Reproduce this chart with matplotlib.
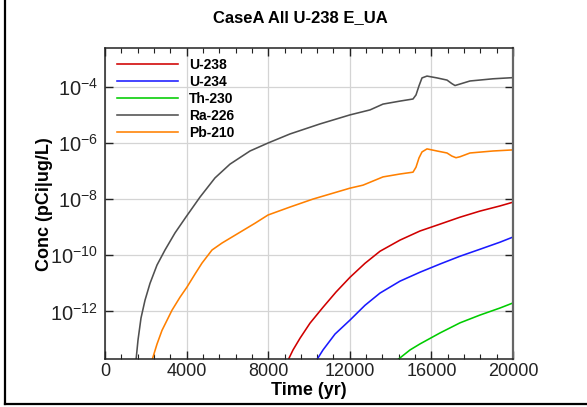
import numpy as np
import matplotlib
matplotlib.use('Agg')
import matplotlib.pyplot as plt
from matplotlib.ticker import MultipleLocator, NullLocator
from matplotlib.lines import Line2D

plt.rcParams['font.family'] = ['Liberation Sans', 'DejaVu Sans']
plt.rcParams['mathtext.fontset'] = 'custom'
plt.rcParams['mathtext.rm'] = 'Liberation Sans'

# values (time in yr, concentration in pCi/ug/L)
t_ra226 = [1480, 1520, 1618, 1765, 1961, 2206, 2549, 2941, 3431, 3971, 4657, 5392,
           6127, 7108, 7990, 9069, 10539, 12010, 12990, 13627, 14461, 15098, 15245,
           15392, 15539, 15784, 16275, 16765, 17000, 17157, 17402, 17892, 19020, 20000]
c_ra226 = [1.0e-14, 1.8e-14, 9.5e-14, 5.8e-13, 2.5e-12, 1.0e-11, 4.5e-11, 1.55e-10,
           6.3e-10, 2.35e-9, 1.2e-8, 5.8e-8, 1.8e-7, 5.3e-7, 1.02e-6, 2.15e-6, 4.9e-6,
           1.03e-5, 1.55e-5, 2.5e-5, 3.2e-5, 3.8e-5, 5.3e-5, 1.12e-4, 2.15e-4, 2.5e-4,
           2.15e-4, 1.8e-4, 1.35e-4, 1.15e-4, 1.3e-4, 1.67e-4, 2.0e-4, 2.2e-4]

t_pb210 = [2206, 2304, 2549, 2794, 3284, 3676, 4020, 4412, 4755, 5245, 5735, 6225,
           7353, 7990, 9069, 10196, 12010, 12647, 13627, 14461, 15098, 15245, 15392,
           15539, 15784, 16275, 16765, 17000, 17206, 17402, 17892, 19020, 20000]
c_pb210 = [8.0e-15, 1.8e-14, 6.8e-14, 2.1e-13, 1.1e-12, 3.2e-12, 7.4e-12, 2.15e-11,
           5.3e-11, 1.55e-10, 2.75e-10, 4.5e-10, 1.4e-9, 2.75e-9, 5.3e-9, 1.02e-8,
           2.5e-8, 3.2e-8, 6.3e-8, 8.0e-8, 9.3e-8, 1.4e-7, 3.0e-7, 4.9e-7, 6.3e-7,
           5.3e-7, 4.5e-7, 3.5e-7, 3.05e-7, 3.3e-7, 4.5e-7, 5.3e-7, 5.8e-7]

t_u238 = [8900, 8971, 9216, 9559, 10049, 10686, 11324, 12010, 12745, 13480, 14461,
          15441, 16422, 17402, 18382, 19363, 20000]
c_u238 = [1.2e-14, 1.8e-14, 4.2e-14, 1.1e-13, 3.8e-13, 1.4e-12, 4.9e-12, 1.65e-11,
          5.2e-11, 1.4e-10, 3.5e-10, 7.4e-10, 1.3e-9, 2.3e-9, 3.8e-9, 5.8e-9, 7.9e-9]

t_u234 = [10300, 10368, 10686, 11275, 12010, 12745, 13480, 14461, 15441, 16422,
          17402, 18382, 19363, 20000]
c_u234 = [1.2e-14, 1.8e-14, 4.2e-14, 1.55e-13, 4.9e-13, 1.65e-12, 4.5e-12, 1.2e-11,
          2.5e-11, 4.9e-11, 9.3e-11, 1.65e-10, 2.95e-10, 4.5e-10]

t_th230 = [14200, 14314, 14951, 15441, 16422, 17402, 18382, 19363, 20000]
c_th230 = [1.3e-14, 1.8e-14, 4.2e-14, 6.9e-14, 1.7e-13, 3.9e-13, 7.4e-13, 1.32e-12,
           2.0e-12]

series = [('U-238', t_u238, c_u238, '#d00000'),
          ('U-234', t_u234, c_u234, '#1a1aff'),
          ('Th-230', t_th230, c_th230, '#00cc00'),
          ('Ra-226', t_ra226, c_ra226, '#505050'),
          ('Pb-210', t_pb210, c_pb210, '#ff8000')]

ytick_vals = [1e-12, 1e-10, 1e-8, 1e-6, 1e-4]
ytick_labels = [r'$\mathregular{10^{-12}}$', r'$\mathregular{10^{-10}}$',
                r'$\mathregular{10^{-8}}$', r'$\mathregular{10^{-6}}$',
                r'$\mathregular{10^{-4}}$']
xtick_vals = [0, 4000, 8000, 12000, 16000, 20000]

fig = plt.figure(figsize=(5.87, 4.07), dpi=100, facecolor='w')
ax = fig.add_axes([105/587, 1-359.3/407, 408/587, 311.3/407])

for name, t, c, col in series:
    ax.semilogy(t, c, color=col, linewidth=1.15, label=name)

ax.set_xlim(0, 20000)
ax.set_ylim(10**-13.71, 10**-2.6)
ax.set_xticks(xtick_vals)
ax.set_xticklabels([str(v) for v in xtick_vals], fontsize=13)
ax.xaxis.set_minor_locator(MultipleLocator(800))
ax.set_yticks(ytick_vals)
ax.set_yticklabels(ytick_labels, fontsize=14.5)
ax.yaxis.set_minor_locator(NullLocator())
ax.grid(True, which='major', color='#d4d4d4', linewidth=0.9)
ax.set_axisbelow(True)
ax.tick_params(which='both', direction='in', top=True, right=True, colors='#222222')
ax.tick_params(which='major', length=5.5, width=1.0, pad=3)
ax.tick_params(which='minor', length=3.5, width=0.8)
ax.tick_params(axis='y', pad=5)
for s in ['left', 'bottom', 'top']:
    ax.spines[s].set_color('#222222')
    ax.spines[s].set_linewidth(1.1)
ax.spines['right'].set_color('#666666')
ax.spines['right'].set_linewidth(1.6)

ax.set_xlabel('Time (yr)', fontsize=13, fontweight='bold', labelpad=1)
ax.set_ylabel('Conc (pCi|ug/L)', fontsize=13, fontweight='bold', labelpad=-2)

leg = ax.legend(loc='upper left', bbox_to_anchor=(0.029, 0.968), frameon=False,
                borderpad=0, borderaxespad=0, handlelength=4.4, handletextpad=0.8,
                labelspacing=0.22, prop={'size': 10, 'weight': 'bold'})

fig.text(300/587, 1-18/407, 'CaseA All U-238 E_UA', ha='center', va='center',
         fontsize=12, fontweight='bold')

# frame lines of the outer panel
fig.add_artist(Line2D([5/587, 5/587], [3/407, 1], transform=fig.transFigure,
                      color='k', linewidth=1.6))
fig.add_artist(Line2D([5/587, 1], [3/407, 3/407], transform=fig.transFigure,
                      color='k', linewidth=1.6))

fig.savefig('out.png', dpi=100, facecolor='w')
